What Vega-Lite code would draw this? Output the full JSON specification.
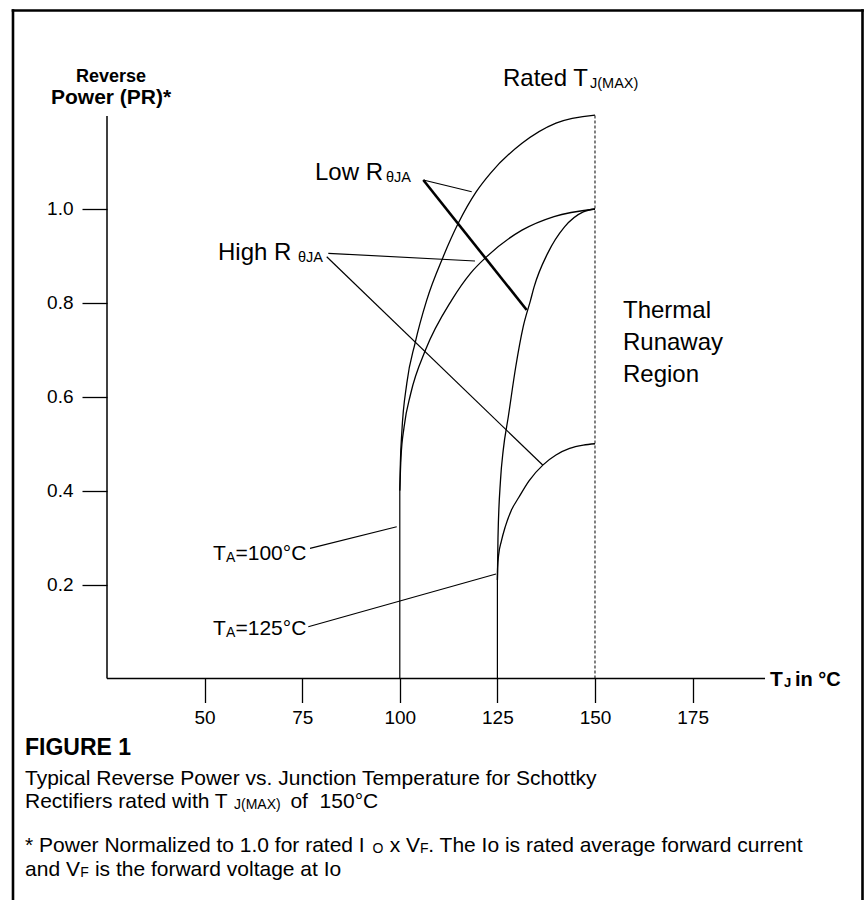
{
  "$schema": "https://vega.github.io/schema/vega-lite/v6.json",
  "width": 865,
  "height": 900,
  "padding": 0,
  "autosize": {"type": "none"},
  "background": "white",
  "config": {"view": {"stroke": null}, "font": "Liberation Sans", "text": {"font": "Liberation Sans"}},
  "datasets": {
    "curves": [
      {"s": "L100", "x": 100, "y": 0.40}, {"s": "L100", "x": 100.15, "y": 0.46}, {"s": "L100", "x": 100.5, "y": 0.522},
      {"s": "L100", "x": 101.8, "y": 0.629}, {"s": "L100", "x": 103.9, "y": 0.714}, {"s": "L100", "x": 106.9, "y": 0.806},
      {"s": "L100", "x": 111.1, "y": 0.898}, {"s": "L100", "x": 115.0, "y": 0.970}, {"s": "L100", "x": 119.6, "y": 1.037},
      {"s": "L100", "x": 123.2, "y": 1.076}, {"s": "L100", "x": 131.3, "y": 1.140}, {"s": "L100", "x": 140.0, "y": 1.183},
      {"s": "L100", "x": 150, "y": 1.2},
      {"s": "H100", "x": 100, "y": 0.40}, {"s": "H100", "x": 100.3, "y": 0.47}, {"s": "H100", "x": 101.1, "y": 0.536},
      {"s": "H100", "x": 102.8, "y": 0.607}, {"s": "H100", "x": 106.6, "y": 0.700}, {"s": "H100", "x": 113.3, "y": 0.806},
      {"s": "H100", "x": 118.1, "y": 0.863}, {"s": "H100", "x": 122.2, "y": 0.898}, {"s": "H100", "x": 131.3, "y": 0.955},
      {"s": "H100", "x": 139.5, "y": 0.984}, {"s": "H100", "x": 150, "y": 1.0},
      {"s": "L125", "x": 125, "y": 0.21}, {"s": "L125", "x": 125.15, "y": 0.30}, {"s": "L125", "x": 125.8, "y": 0.423},
      {"s": "L125", "x": 126.5, "y": 0.487}, {"s": "L125", "x": 127.8, "y": 0.558}, {"s": "L125", "x": 129.7, "y": 0.664},
      {"s": "L125", "x": 131.6, "y": 0.749}, {"s": "L125", "x": 133.5, "y": 0.806}, {"s": "L125", "x": 134.4, "y": 0.834},
      {"s": "L125", "x": 137.9, "y": 0.906}, {"s": "L125", "x": 142.2, "y": 0.962}, {"s": "L125", "x": 147.0, "y": 0.994},
      {"s": "L125", "x": 150, "y": 1.0},
      {"s": "H125", "x": 125, "y": 0.21}, {"s": "H125", "x": 125.05, "y": 0.235}, {"s": "H125", "x": 125.3, "y": 0.262},
      {"s": "H125", "x": 126.0, "y": 0.292}, {"s": "H125", "x": 127.0, "y": 0.323}, {"s": "H125", "x": 128.5, "y": 0.357},
      {"s": "H125", "x": 130.5, "y": 0.386}, {"s": "H125", "x": 133.1, "y": 0.421}, {"s": "H125", "x": 136.7, "y": 0.455},
      {"s": "H125", "x": 140.0, "y": 0.476}, {"s": "H125", "x": 143.5, "y": 0.490}, {"s": "H125", "x": 147.0, "y": 0.497},
      {"s": "H125", "x": 150, "y": 0.5}
    ],
    "segs": [
      {"k": "frame", "x": 0.92, "y": 1.4228, "x2": 218.52, "y2": 1.4228},
      {"k": "frame", "x": 0.92, "y": 1.4228, "x2": 0.92, "y2": -0.49},
      {"k": "frame", "x": 218.52, "y": 1.4228, "x2": 218.52, "y2": -0.49},
      {"k": "axis", "x": 25, "y": 0, "x2": 25, "y2": 1.198},
      {"k": "axis", "x": 25, "y": 0, "x2": 193.55, "y2": 0},
      {"k": "thin", "x": 100, "y": 0, "x2": 100, "y2": 0.40},
      {"k": "thin", "x": 125, "y": 0, "x2": 125, "y2": 0.21},
      {"k": "thin", "x": 106.02, "y": 1.0618, "x2": 118.42, "y2": 1.0368},
      {"k": "thin", "x": 81.69, "y": 0.9056, "x2": 119.26, "y2": 0.8892},
      {"k": "thin", "x": 81.28, "y": 0.8984, "x2": 136.6, "y2": 0.4547},
      {"k": "thin", "x": 77.0, "y": 0.2773, "x2": 99.21, "y2": 0.3233},
      {"k": "thin", "x": 76.56, "y": 0.1103, "x2": 124.64, "y2": 0.2226},
      {"k": "thick", "x": 106.02, "y": 1.0618, "x2": 132.51, "y2": 0.7849},
      {"k": "dash", "x": 150, "y": 0, "x2": 150, "y2": 1.2}
    ],
    "texts": [
      {"k": "a24", "x": 78.28, "y": 1.0618, "t": "Low R"},
      {"k": "a24", "x": 53.43, "y": 0.8914, "t": "High R"},
      {"k": "a24", "x": 126.43, "y": 1.262, "t": "Rated T"},
      {"k": "a24", "x": 157.17, "y": 0.7678, "t": "Thermal"},
      {"k": "a24", "x": 157.17, "y": 0.6997, "t": "Runaway"},
      {"k": "a24", "x": 157.17, "y": 0.6315, "t": "Region"},
      {"k": "sub", "x": 96.47, "y": 1.0575, "t": "θJA"},
      {"k": "sub", "x": 73.92, "y": 0.8871, "t": "θJA"},
      {"k": "sub", "x": 148.72, "y": 1.2577, "t": "J(MAX)"},
      {"k": "ta", "x": 52.15, "y": 0.2524, "t": "T"},
      {"k": "ta", "x": 57.91, "y": 0.2524, "t": "=100°C"},
      {"k": "ta", "x": 52.15, "y": 0.0927, "t": "T"},
      {"k": "ta", "x": 57.91, "y": 0.0927, "t": "=125°C"},
      {"k": "tasub", "x": 55.48, "y": 0.2481, "t": "A"},
      {"k": "tasub", "x": 55.48, "y": 0.0884, "t": "A"},
      {"k": "ylab", "x": 10.66, "y": 1.2236, "t": "Power (PR)*"},
      {"k": "ylab2", "x": 17.06, "y": 1.2705, "t": "Reverse"},
      {"k": "xlabT", "x": 194.83, "y": -0.016, "t": "T"},
      {"k": "xlabJ", "x": 198.41, "y": -0.0181, "t": "J"},
      {"k": "xlabIn", "x": 201.23, "y": -0.016, "t": "in °C"},
      {"k": "fig", "x": 4.0, "y": -0.1629, "t": "FIGURE 1"},
      {"k": "cap", "x": 4.0, "y": -0.2268, "t": "Typical Reverse Power vs. Junction Temperature for Schottky"},
      {"k": "cap", "x": 4.0, "y": -0.2758, "t": "Rectifiers rated with T"},
      {"k": "cap", "x": 71.98, "y": -0.2758, "t": "of\u00a0\u00a0150°C"},
      {"k": "cap", "x": 4.0, "y": -0.3695, "t": "* Power Normalized to 1.0 for rated I"},
      {"k": "cap", "x": 97.4, "y": -0.3695, "t": "x V"},
      {"k": "cap", "x": 107.3, "y": -0.3695, "t": ". The Io is rated average forward current"},
      {"k": "cap", "x": 4.0, "y": -0.4207, "t": "and V"},
      {"k": "cap", "x": 21.9, "y": -0.4207, "t": "is the forward voltage at Io"},
      {"k": "capsub", "x": 57.53, "y": -0.278, "t": "J(MAX)"},
      {"k": "capsub", "x": 93.0, "y": -0.3717, "t": "O"},
      {"k": "capsub", "x": 105.2, "y": -0.3717, "t": "F"},
      {"k": "capsub", "x": 18.15, "y": -0.4228, "t": "F"}
    ]
  },
  "encoding": {
    "x": {
      "field": "x", "type": "quantitative",
      "scale": {"domain": [-2.408, 219.16], "nice": false, "zero": false},
      "axis": {
        "values": [50, 75, 100, 125, 150, 175], "offset": -221.5, "domain": false, "grid": false, "title": null,
        "tickSize": 24, "tickColor": "black", "tickWidth": 1.3, "labelFontSize": 19, "labelFont": "Liberation Sans",
        "labelColor": "black", "labelPadding": 6, "labelFlush": false, "labelOverlap": false
      }
    },
    "y": {
      "field": "y", "type": "quantitative",
      "scale": {"domain": [-0.47178, 1.44515], "nice": false, "zero": false},
      "axis": {
        "values": [0.2, 0.4, 0.6, 0.8, 1.0], "format": ".1f", "offset": -107, "domain": false, "grid": false, "title": null,
        "tickSize": 25, "tickColor": "black", "tickWidth": 1.3, "labelFontSize": 19, "labelFont": "Liberation Sans",
        "labelColor": "black", "labelPadding": 9, "labelOverlap": false
      }
    }
  },
  "layer": [
    {"data": {"name": "segs"}, "transform": [{"filter": "datum.k === 'frame'"}],
     "mark": {"type": "rule", "color": "black", "strokeWidth": 2.6, "strokeCap": "square"},
     "encoding": {"x2": {"field": "x2"}, "y2": {"field": "y2"}}},
    {"data": {"name": "segs"}, "transform": [{"filter": "datum.k === 'axis'"}],
     "mark": {"type": "rule", "color": "black", "strokeWidth": 1.5},
     "encoding": {"x2": {"field": "x2"}, "y2": {"field": "y2"}}},
    {"data": {"name": "segs"}, "transform": [{"filter": "datum.k === 'thin'"}],
     "mark": {"type": "rule", "color": "black", "strokeWidth": 1.2},
     "encoding": {"x2": {"field": "x2"}, "y2": {"field": "y2"}}},
    {"data": {"name": "segs"}, "transform": [{"filter": "datum.k === 'thick'"}],
     "mark": {"type": "rule", "color": "black", "strokeWidth": 2.6},
     "encoding": {"x2": {"field": "x2"}, "y2": {"field": "y2"}}},
    {"data": {"name": "segs"}, "transform": [{"filter": "datum.k === 'dash'"}],
     "mark": {"type": "rule", "color": "black", "strokeWidth": 1, "strokeDash": [3, 2]},
     "encoding": {"x2": {"field": "x2"}, "y2": {"field": "y2"}}},
    {"data": {"name": "curves"},
     "mark": {"type": "line", "color": "black", "strokeWidth": 1.3, "interpolate": "monotone"},
     "encoding": {"detail": {"field": "s"}}},
    {"data": {"name": "texts"}, "transform": [{"filter": "datum.k === 'a24'"}],
     "mark": {"type": "text", "align": "left", "baseline": "alphabetic", "fontSize": 24, "color": "black"},
     "encoding": {"text": {"field": "t"}}},
    {"data": {"name": "texts"}, "transform": [{"filter": "datum.k === 'sub'"}],
     "mark": {"type": "text", "align": "left", "baseline": "alphabetic", "fontSize": 14.5, "color": "black"},
     "encoding": {"text": {"field": "t"}}},
    {"data": {"name": "texts"}, "transform": [{"filter": "datum.k === 'ta'"}],
     "mark": {"type": "text", "align": "left", "baseline": "alphabetic", "fontSize": 21, "color": "black"},
     "encoding": {"text": {"field": "t"}}},
    {"data": {"name": "texts"}, "transform": [{"filter": "datum.k === 'tasub'"}],
     "mark": {"type": "text", "align": "left", "baseline": "alphabetic", "fontSize": 14, "color": "black"},
     "encoding": {"text": {"field": "t"}}},
    {"data": {"name": "texts"}, "transform": [{"filter": "datum.k === 'ylab'"}],
     "mark": {"type": "text", "align": "left", "baseline": "alphabetic", "fontSize": 21, "fontWeight": "bold", "color": "black"},
     "encoding": {"text": {"field": "t"}}},
    {"data": {"name": "texts"}, "transform": [{"filter": "datum.k === 'ylab2'"}],
     "mark": {"type": "text", "align": "left", "baseline": "alphabetic", "fontSize": 18, "fontWeight": "bold", "color": "black"},
     "encoding": {"text": {"field": "t"}}},
    {"data": {"name": "texts"}, "transform": [{"filter": "datum.k === 'xlabT'"}],
     "mark": {"type": "text", "align": "left", "baseline": "alphabetic", "fontSize": 21, "fontWeight": "bold", "color": "black"},
     "encoding": {"text": {"field": "t"}}},
    {"data": {"name": "texts"}, "transform": [{"filter": "datum.k === 'xlabJ'"}],
     "mark": {"type": "text", "align": "left", "baseline": "alphabetic", "fontSize": 13, "fontWeight": "bold", "color": "black"},
     "encoding": {"text": {"field": "t"}}},
    {"data": {"name": "texts"}, "transform": [{"filter": "datum.k === 'xlabIn'"}],
     "mark": {"type": "text", "align": "left", "baseline": "alphabetic", "fontSize": 20, "fontWeight": "bold", "color": "black"},
     "encoding": {"text": {"field": "t"}}},
    {"data": {"name": "texts"}, "transform": [{"filter": "datum.k === 'fig'"}],
     "mark": {"type": "text", "align": "left", "baseline": "alphabetic", "fontSize": 23, "fontWeight": "bold", "color": "black"},
     "encoding": {"text": {"field": "t"}}},
    {"data": {"name": "texts"}, "transform": [{"filter": "datum.k === 'cap'"}],
     "mark": {"type": "text", "align": "left", "baseline": "alphabetic", "fontSize": 21, "color": "black"},
     "encoding": {"text": {"field": "t"}}},
    {"data": {"name": "texts"}, "transform": [{"filter": "datum.k === 'capsub'"}],
     "mark": {"type": "text", "align": "left", "baseline": "alphabetic", "fontSize": 14, "color": "black"},
     "encoding": {"text": {"field": "t"}}}
  ]
}
